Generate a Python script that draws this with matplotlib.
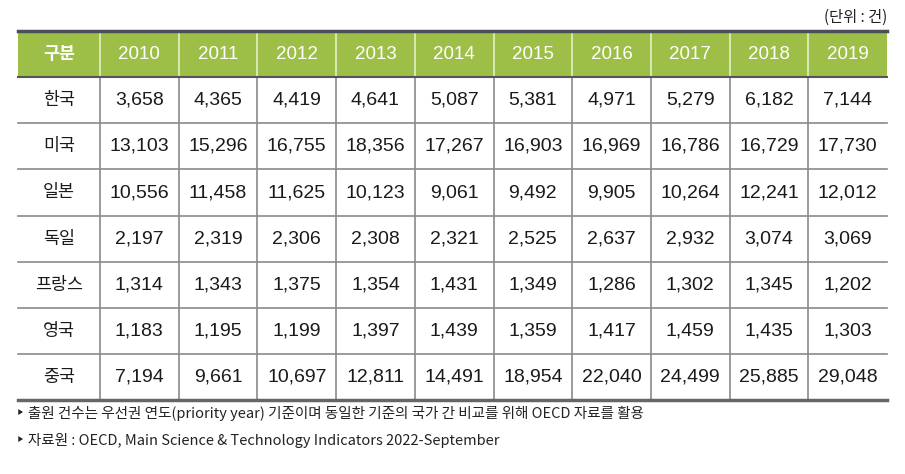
import matplotlib.pyplot as plt
from matplotlib.patches import Rectangle

plt.rcParams["font.family"] = ["Liberation Sans", "Noto Sans CJK KR", "DejaVu Sans"]

years = ["2010", "2011", "2012", "2013", "2014", "2015", "2016", "2017", "2018", "2019"]
countries = ["한국", "미국", "일본", "독일", "프랑스", "영국", "중국"]
korea = [3658, 4365, 4419, 4641, 5087, 5381, 4971, 5279, 6182, 7144]
usa = [13103, 15296, 16755, 18356, 17267, 16903, 16969, 16786, 16729, 17730]
japan = [10556, 11458, 11625, 10123, 9061, 9492, 9905, 10264, 12241, 12012]
germany = [2197, 2319, 2306, 2308, 2321, 2525, 2637, 2932, 3074, 3069]
france = [1314, 1343, 1375, 1354, 1431, 1349, 1286, 1302, 1345, 1202]
uk = [1183, 1195, 1199, 1397, 1439, 1359, 1417, 1459, 1435, 1303]
china = [7194, 9661, 10697, 12811, 14491, 18954, 22040, 24499, 25885, 29048]
rows = [korea, usa, japan, germany, france, uk, china]

unit_note = "(단위 : 건)"
notes = [
    "‣ 출원 건수는 우선권 연도(priority year) 기준이며 동일한 기준의 국가 간 비교를 위해 OECD 자료를 활용",
    "‣ 자료원 : OECD, Main Science & Technology Indicators 2022-September",
]

W, H = 905, 474
fig = plt.figure(figsize=(W / 100, H / 100), dpi=100)
ax = fig.add_axes([0, 0, 1, 1])
ax.set_xlim(0, W)
ax.set_ylim(H, 0)
ax.axis("off")

left, first_w, col_w = 18, 82, 78.7
top, head_h, row_h = 31, 46, 46.2
right = left + first_w + col_w * len(years)
bottom = top + head_h + row_h * len(rows)
green = "#9dbf48"
grid = "#8a8a8a"
kr = ["Noto Sans CJK KR", "DejaVu Sans"]

# header
ax.add_patch(Rectangle((left, top), right - left, head_h, color=green, lw=0))
xs = [left] + [left + first_w + i * col_w for i in range(len(years) + 1)]
for x in xs[1:-1]:
    ax.plot([x, x], [top, top + head_h], color="#e4efc8", lw=1.2)
    ax.plot([x, x], [top + head_h, bottom], color=grid, lw=1.2)
ax.text(left + first_w / 2, top + head_h / 2, "구분", ha="center", va="center",
        color="white", fontsize=12.5, family=kr, fontweight="bold")
for i, y in enumerate(years):
    ax.text(xs[i + 1] + col_w / 2, top + head_h / 2, y, ha="center", va="center",
            color="white", fontsize=13.5)

# body
for r, (name, vals) in enumerate(zip(countries, rows)):
    yc = top + head_h + row_h * (r + 0.5)
    ax.text(left + first_w / 2, yc, name, ha="center", va="center", fontsize=12.5,
            color="#1a1a1a", family=kr)
    for i, v in enumerate(vals):
        ax.text(xs[i + 1] + col_w / 2, yc, f"{v:,}", ha="center", va="center",
                fontsize=14, color="#1a1a1a")
    if r > 0:
        yl = top + head_h + row_h * r
        ax.plot([left, right], [yl, yl], color=grid, lw=1.2)

ax.plot([left, right], [top, top], color="#4a4f5a", lw=2.5)
ax.plot([left, right], [top + head_h, top + head_h], color="#555555", lw=1.5)
ax.plot([left, right], [bottom, bottom], color="#666666", lw=2.5)

ax.text(right, 17, unit_note, ha="right", va="center", fontsize=11, family=kr,
        color="#222222")
for k, note in enumerate(notes):
    ax.text(left - 2, bottom + 13 + k * 27, note, ha="left", va="center",
            fontsize=10.5, family=kr, color="#222222")

fig.savefig("out.png", dpi=100)
